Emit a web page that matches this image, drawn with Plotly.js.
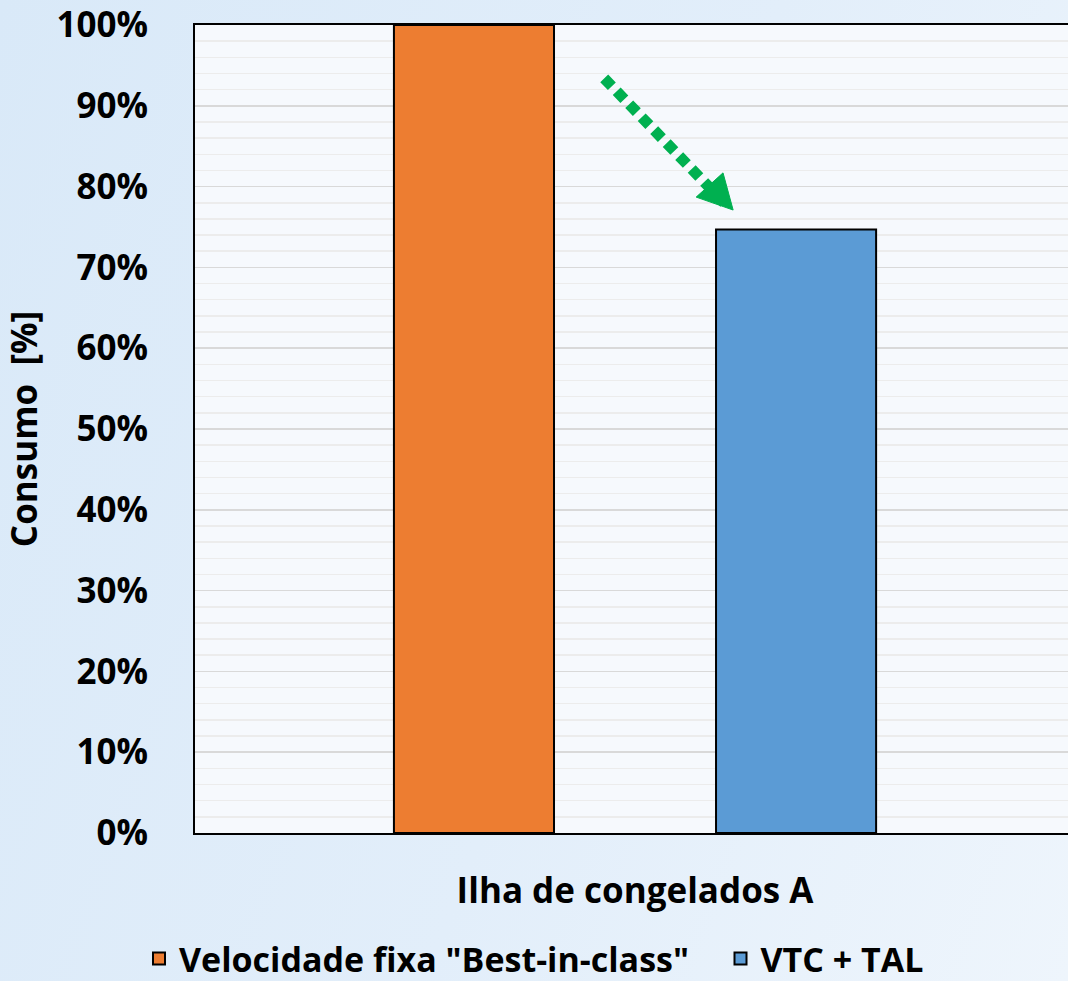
<!DOCTYPE html>
<html>
<head>
<meta charset="utf-8">
<script src="https://cdn.plot.ly/plotly-3.0.1.min.js"></script>
<style>
  html, body { margin: 0; padding: 0; overflow: hidden; }
  body { width: 1068px; height: 981px; background: linear-gradient(110deg, #d9e9f8 0%, #e2eefa 55%, #eef5fc 100%); }
  #chart { width: 1068px; height: 988px; }
</style>
</head>
<body>
<div id="chart"></div>
<script>
// Data
const categories = ["Ilha de congelados A"];
const seriesNames = ['Velocidade fixa "Best-in-class"', "VTC + TAL"];
const fixedSpeed = [1.00];
const vtcTal = [0.747];
const yTickValues = [0, 0.1, 0.2, 0.3, 0.4, 0.5, 0.6, 0.7, 0.8, 0.9, 1.0];
const yTickLabels = ["0%", "10%", "20%", "30%", "40%", "50%", "60%", "70%", "80%", "90%", "100%"];
// Arrow annotation (start/end in axis units)
const arrowStart = [-0.035, 0.934];
const arrowEnd = [0.104, 0.777];
const arrowTip = [0.1115, 0.771];

const font = "Open Sans, DejaVu Sans, sans-serif";
const green = "#00b050";

const traces = [
  { type: "bar", name: seriesNames[0] + "&#160;&#160;&#160;", x: categories, y: fixedSpeed,
    marker: { color: "#ed7d31", line: { color: "#000000", width: 2 } } },
  { type: "bar", name: seriesNames[1], x: categories, y: vtcTal,
    marker: { color: "#5b9bd5", line: { color: "#000000", width: 2 } } }
];

const layout = {
  width: 1068, height: 988,
  paper_bgcolor: "rgba(0,0,0,0)",
  plot_bgcolor: "#f6f9fd",
  margin: { l: 195, r: 0, t: 25, b: 155, autoexpand: false },
  barmode: "group",
  bargap: 0.268,
  bargroupgap: 0.503,
  showlegend: true,
  legend: {
    orientation: "h", xref: "container", yref: "container",
    x: 0.5, xanchor: "center", y: 0.0, yanchor: "bottom",
    font: { family: font, size: 34, color: "#000000", weight: 700 },
    bgcolor: "rgba(0,0,0,0)", itemwidth: 30
  },
  xaxis: {
    type: "category",
    range: [-0.5, 0.492],
    showline: true, linecolor: "#000000", linewidth: 2, mirror: true,
    showgrid: false, ticks: "",
    ticklabelstandoff: 26,
    tickfont: { family: font, size: 35, color: "#000000", weight: 700 },
    fixedrange: true
  },
  yaxis: {
    range: [0, 1.0],
    tickvals: yTickValues, ticktext: yTickLabels,
    showline: true, linecolor: "#000000", linewidth: 2,
    showgrid: true, gridcolor: "#d9d9d9", gridwidth: 1.5,
    minor: { dtick: 0.02, showgrid: true, gridcolor: "#ececec", gridwidth: 1.5, ticks: "" },
    ticks: "", ticklabelstandoff: 38,
    zeroline: false,
    tickfont: { family: font, size: 35, color: "#000000", weight: 700 },
    title: { text: "Consumo &#160;[%]", standoff: 24, font: { family: font, size: 35, color: "#000000", weight: 700 } },
    fixedrange: true
  },
  shapes: [
    { type: "line", xref: "x", yref: "y",
      x0: arrowStart[0], y0: arrowStart[1], x1: arrowEnd[0], y1: arrowEnd[1],
      line: { color: green, width: 11, dash: "11px,7px" } },
    { type: "path", xref: "x", yref: "y",
      path: "M " + arrowTip[0] + "," + arrowTip[1] +
            " L " + (arrowTip[0] - 0.042) + "," + (arrowTip[1] + 0.016) +
            " L " + (arrowTip[0] - 0.0115) + "," + (arrowTip[1] + 0.046) + " Z",
      fillcolor: green, line: { color: green, width: 1 } }
  ]
};

Plotly.newPlot("chart", traces, layout, { displayModeBar: false, staticPlot: true });
</script>
</body>
</html>
